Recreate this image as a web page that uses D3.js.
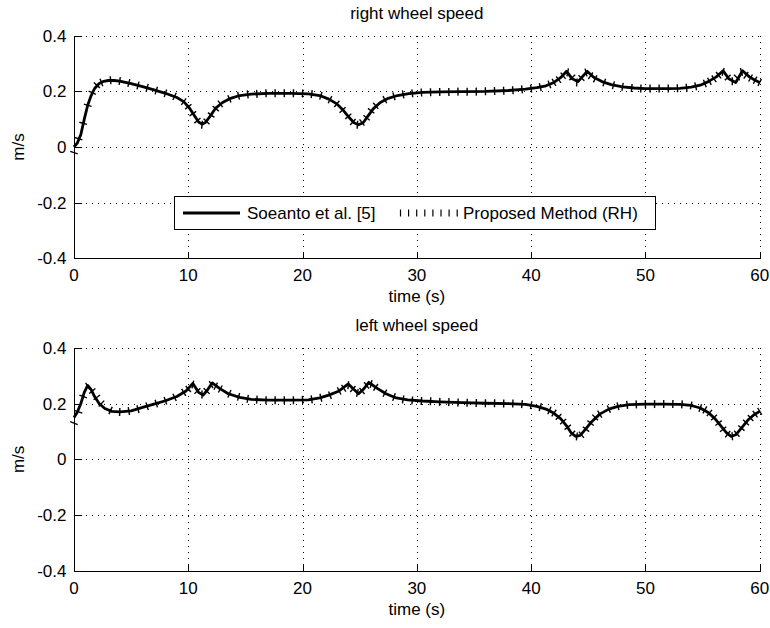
<!DOCTYPE html>
<html>
<head>
<meta charset="utf-8">
<script src="https://cdn.jsdelivr.net/npm/d3@7"></script>
<style>
  body { margin: 0; background: #fff; }
  svg { display: block; }
  text { font-family: "Liberation Sans", Arial, Helvetica, sans-serif; font-size: 17px; fill: #000; }
</style>
</head>
<body>
<svg id="chart" width="770" height="628"></svg>
<script>
// ---- data ----
const timeTicks = [0, 10, 20, 30, 40, 50, 60];
const speedTicks = [-0.4, -0.2, 0, 0.2, 0.4];
const speedTickLabels = ["-0.4", "-0.2", "0", "0.2", "0.4"];
const seriesNames = ["Soeanto et al. [5]", "Proposed Method (RH)"];
const panelTitles = ["right wheel speed", "left wheel speed"];
const axisLabelX = "time (s)";
const axisLabelY = "m/s";

// right wheel, Soeanto et al. [5]
const tSoeantoRight = [0,0.3,0.6,0.9,1.2,1.5,1.8,2.2,2.6,3.0,3.5,4.0,5.0,6.0,7.0,8.0,9.0,9.6,10.1,10.5,
  10.9,11.2,11.5,11.9,12.4,13.0,13.7,14.5,15.5,17,19,20.5,21.5,22.3,23.0,23.6,24.1,24.5,24.9,25.3,
  25.7,26.2,26.8,27.5,28.3,29.3,30.5,32,34,36,38,39.5,40.5,41.3,42.0,42.6,43.1,43.6,44.1,44.9,
  45.5,46.2,47,48,49,50,51,52,53,54,54.8,55.5,56.2,56.8,57.3,57.9,58.5,59.1,59.6,60];
const vSoeantoRight = [0.0,0.015,0.045,0.1,0.15,0.185,0.21,0.228,0.236,0.239,0.239,0.237,0.228,0.217,0.205,0.193,0.178,0.163,0.14,0.115,
  0.09,0.082,0.088,0.11,0.14,0.16,0.175,0.185,0.19,0.193,0.193,0.191,0.185,0.172,0.155,0.13,0.105,0.087,0.08,0.087,
  0.11,0.138,0.16,0.175,0.185,0.192,0.196,0.198,0.199,0.2,0.203,0.208,0.213,0.22,0.232,0.25,0.272,0.245,0.235,0.272,
  0.25,0.235,0.224,0.216,0.212,0.21,0.21,0.21,0.211,0.215,0.222,0.235,0.252,0.274,0.245,0.232,0.274,0.252,0.24,0.232];

// right wheel, proposed method (RH)
const tProposedRight = [0,0.4,0.8,1.2,1.6,2.0,2.4,3.2,4.0,4.8,5.6,6.4,7.2,8.0,8.8,9.6,10.0,10.4,10.8,11.2,
  11.6,12.0,12.4,12.8,13.6,14.4,15.2,16.0,16.8,17.6,18.4,19.2,20.0,20.8,21.6,22.4,23.0,23.5,24.0,24.4,
  24.8,25.2,25.6,26.0,26.4,27.2,28.0,28.8,29.6,30.4,31.2,32.0,32.8,33.6,34.4,35.2,36.0,36.8,37.6,38.4,
  39.2,40.0,40.8,41.6,42.0,42.4,42.8,43.2,43.6,44.0,44.4,44.8,45.2,45.6,46.4,47.2,48.0,48.8,49.6,50.4,
  51.2,52.0,52.8,53.6,54.4,55.2,55.6,56.0,56.4,56.8,57.2,57.6,58.0,58.4,58.8,59.2,59.6,60.0];
const vProposedRight = [-0.02,0.03,0.085,0.15,0.195,0.222,0.232,0.24,0.237,0.23,0.221,0.213,0.203,0.193,0.182,0.163,0.145,0.12,0.095,0.08,
  0.092,0.115,0.138,0.155,0.173,0.184,0.189,0.191,0.193,0.193,0.193,0.193,0.192,0.19,0.184,0.17,0.155,0.133,0.11,0.09,
  0.08,0.088,0.105,0.13,0.148,0.17,0.182,0.189,0.193,0.196,0.197,0.198,0.198,0.199,0.199,0.199,0.2,0.201,0.202,0.204,
  0.207,0.21,0.215,0.225,0.232,0.242,0.256,0.268,0.25,0.232,0.248,0.268,0.256,0.245,0.232,0.222,0.216,0.212,0.21,0.21,
  0.21,0.21,0.211,0.213,0.218,0.228,0.236,0.245,0.258,0.27,0.25,0.236,0.25,0.27,0.258,0.248,0.24,0.232];

// left wheel, Soeanto et al. [5]
const tSoeantoLeft = [0,0.3,0.6,0.9,1.2,1.5,1.8,2.2,2.7,3.3,4.0,5.0,6.0,7.0,8.0,9.0,9.8,10.4,10.9,11.3,
  11.7,12.1,12.7,13.5,14.5,15.5,17,19,20.5,21.5,22.3,23.2,24.0,24.5,24.9,25.3,25.8,26.5,27.3,28.2,
  29.2,30.5,32,34,36,38,39.5,40.5,41.3,42.0,42.6,43.1,43.5,43.9,44.3,44.8,45.3,46.0,46.8,47.6,
  48.6,50,51.5,53,54.0,54.8,55.5,56.1,56.6,57.1,57.5,57.9,58.4,59.0,59.5,60];
const vSoeantoLeft = [0.15,0.17,0.2,0.24,0.265,0.25,0.225,0.2,0.182,0.172,0.17,0.174,0.186,0.198,0.21,0.225,0.245,0.272,0.24,0.23,
  0.25,0.274,0.255,0.235,0.222,0.215,0.212,0.212,0.213,0.22,0.23,0.245,0.27,0.25,0.235,0.25,0.276,0.255,0.235,0.22,
  0.213,0.209,0.206,0.203,0.201,0.2,0.197,0.19,0.18,0.165,0.145,0.12,0.095,0.082,0.086,0.11,0.135,0.162,0.18,0.19,
  0.196,0.198,0.198,0.197,0.193,0.184,0.168,0.145,0.12,0.095,0.082,0.088,0.112,0.142,0.16,0.172];

// left wheel, proposed method (RH)
const tProposedLeft = [0,0.4,0.8,1.2,1.6,2.0,2.4,3.2,4.0,4.8,5.6,6.4,7.2,8.0,8.8,9.6,10.0,10.4,10.8,11.2,
  11.6,12.0,12.4,12.8,13.6,14.4,15.2,16.0,16.8,17.6,18.4,19.2,20.0,20.8,21.6,22.4,23.2,23.6,24.0,24.4,
  24.8,25.2,25.6,26.0,26.4,27.2,28.0,28.8,29.6,30.4,31.2,32.0,32.8,33.6,34.4,35.2,36.0,36.8,37.6,38.4,
  39.2,40.0,40.8,41.6,42.0,42.4,42.8,43.2,43.6,44.0,44.4,44.8,45.2,45.6,46.0,46.8,47.6,48.4,49.2,50.0,
  50.8,51.6,52.4,53.2,54.0,54.8,55.2,55.6,56.0,56.4,56.8,57.2,57.6,58.0,58.4,58.8,59.2,59.6,60.0];
const vProposedLeft = [0.13,0.17,0.225,0.262,0.245,0.222,0.2,0.175,0.17,0.173,0.18,0.19,0.2,0.21,0.222,0.24,0.252,0.268,0.245,0.232,
  0.245,0.268,0.262,0.252,0.235,0.224,0.217,0.214,0.212,0.212,0.212,0.212,0.213,0.215,0.221,0.23,0.245,0.255,0.266,0.252,
  0.238,0.245,0.265,0.27,0.258,0.237,0.223,0.215,0.211,0.209,0.208,0.206,0.205,0.204,0.203,0.202,0.201,0.201,0.2,0.2,
  0.198,0.194,0.187,0.175,0.166,0.152,0.135,0.115,0.092,0.082,0.088,0.108,0.13,0.15,0.162,0.18,0.19,0.195,0.197,0.198,
  0.198,0.198,0.198,0.197,0.193,0.184,0.177,0.166,0.15,0.13,0.108,0.09,0.083,0.092,0.112,0.132,0.148,0.162,0.172];

// ---- layout ----
const svg = d3.select("#chart");
const plotLeft = 74, plotRight = 759.7;
const panels = [
  { top: 35.7, bottom: 258.3, title: panelTitles[0],
    solid: { t: tSoeantoRight, v: vSoeantoRight },
    ticked: { t: tProposedRight, v: vProposedRight }, legend: true },
  { top: 347.7, bottom: 571, title: panelTitles[1],
    solid: { t: tSoeantoLeft, v: vSoeantoLeft },
    ticked: { t: tProposedLeft, v: vProposedLeft }, legend: false }
];

const x = d3.scaleLinear().domain([0, 60]).range([plotLeft, plotRight]);

function drawPanel(p) {
  const y = d3.scaleLinear().domain([-0.4, 0.4]).range([p.bottom, p.top]);
  const g = svg.append("g");

  // dotted grid
  const grid = g.append("g").attr("stroke", "#000").attr("stroke-width", 1)
    .attr("stroke-dasharray", "1,5").attr("shape-rendering", "crispEdges");
  grid.selectAll("line.v").data(timeTicks.filter(d => d !== 0)).join("line")
    .attr("x1", d => Math.round(x(d)) + 0.5).attr("x2", d => Math.round(x(d)) + 0.5)
    .attr("y1", p.top).attr("y2", p.bottom);
  grid.selectAll("line.h").data(speedTicks.filter(d => d !== -0.4)).join("line")
    .attr("class", "h")
    .attr("y1", d => Math.round(y(d)) + 0.5).attr("y2", d => Math.round(y(d)) + 0.5)
    .attr("x1", plotLeft).attr("x2", plotRight);

  // axes: left and bottom only, ticks pointing inward
  const xAxis = d3.axisTop(x).tickValues(timeTicks).tickSize(7).tickFormat("");
  const yAxis = d3.axisRight(y).tickValues(speedTicks).tickSize(7).tickFormat("");
  const xa = g.append("g").attr("transform", `translate(0,${Math.round(p.bottom) + 0.5})`).call(xAxis);
  const ya = g.append("g").attr("transform", `translate(${Math.round(plotLeft) + 0.5},0)`).call(yAxis);
  [xa, ya].forEach(a => {
    a.select(".domain").attr("stroke", "#000").attr("stroke-width", 1).attr("d", null);
    a.selectAll(".tick line").attr("stroke", "#000").attr("shape-rendering", "crispEdges");
  });
  g.append("line").attr("x1", Math.round(plotLeft) + 0.5).attr("x2", Math.round(plotLeft) + 0.5)
    .attr("y1", p.top).attr("y2", Math.round(p.bottom) + 1).attr("stroke", "#000").attr("shape-rendering", "crispEdges");
  g.append("line").attr("x1", plotLeft).attr("x2", plotRight + 0.5)
    .attr("y1", Math.round(p.bottom) + 0.5).attr("y2", Math.round(p.bottom) + 0.5)
    .attr("stroke", "#000").attr("shape-rendering", "crispEdges");

  // tick labels
  g.selectAll("text.xl").data(timeTicks).join("text").attr("class", "xl")
    .attr("x", d => x(d)).attr("y", p.bottom + 22.5).attr("text-anchor", "middle").text(d => d);
  g.selectAll("text.yl").data(speedTicks).join("text").attr("class", "yl")
    .attr("x", 66.5).attr("y", d => y(d) + 6).attr("text-anchor", "end")
    .text((d, i) => speedTickLabels[i]);

  // axis labels and title
  g.append("text").attr("x", (plotLeft + plotRight) / 2).attr("y", p.bottom + 44)
    .attr("text-anchor", "middle").text(axisLabelX);
  g.append("text").attr("transform", `translate(24,${(p.top + p.bottom) / 2}) rotate(-90)`)
    .attr("text-anchor", "middle").text(axisLabelY);
  g.append("text").attr("x", (plotLeft + plotRight) / 2).attr("y", p.top - 17)
    .attr("text-anchor", "middle").text(p.title);

  // Soeanto et al. [5]: thick solid line
  const line = d3.line().x(d => x(d[0])).y(d => y(d[1]));
  const solidPts = p.solid.t.map((t, i) => [t, p.solid.v[i]]);
  g.append("path").attr("d", line(solidPts)).attr("fill", "none")
    .attr("stroke", "#000").attr("stroke-width", 2.8).attr("stroke-linejoin", "round");

  // Proposed Method (RH): short strokes across the curve at each sample
  const pts = p.ticked.t.map((t, i) => [x(t), y(p.ticked.v[i])]);
  const half = 4;
  const strokes = pts.map((pt, i) => {
    const a = pts[Math.max(0, i - 1)], b = pts[Math.min(pts.length - 1, i + 1)];
    const dx = b[0] - a[0], dy = b[1] - a[1];
    const len = Math.hypot(dx, dy) || 1;
    const nx = -dy / len, ny = dx / len;
    return [pt[0] - nx * half, pt[1] - ny * half, pt[0] + nx * half, pt[1] + ny * half];
  });
  g.append("g").selectAll("line").data(strokes).join("line")
    .attr("x1", d => d[0]).attr("y1", d => d[1]).attr("x2", d => d[2]).attr("y2", d => d[3])
    .attr("stroke", "#000").attr("stroke-width", 1.4);

  if (p.legend) {
    const lg = g.append("g");
    lg.append("rect").attr("x", 174.5).attr("y", 196.5).attr("width", 481).attr("height", 33)
      .attr("fill", "#fff").attr("stroke", "#000").attr("stroke-width", 1);
    lg.append("line").attr("x1", 183).attr("x2", 240).attr("y1", 213).attr("y2", 213)
      .attr("stroke", "#000").attr("stroke-width", 2.8);
    lg.append("text").attr("x", 247).attr("y", 219).text(seriesNames[0]);
    const sampleX = d3.range(8).map(i => 400.5 + i * 8.1);
    lg.selectAll("line.s").data(sampleX).join("line").attr("class", "s")
      .attr("x1", d => d).attr("x2", d => d).attr("y1", 209.5).attr("y2", 216.5)
      .attr("stroke", "#000").attr("stroke-width", 1.2);
    lg.append("text").attr("x", 463).attr("y", 219).text(seriesNames[1]);
  }
}

panels.forEach(drawPanel);
</script>
</body>
</html>
